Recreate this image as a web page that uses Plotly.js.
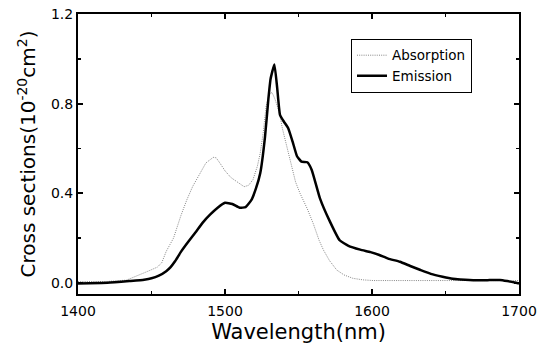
<!DOCTYPE html>
<html>
<head>
<meta charset="utf-8">
<script src="https://cdn.plot.ly/plotly-3.0.1.min.js"></script>
<style>html,body{margin:0;padding:0;background:#fff;}#chart{width:550px;height:344px;}</style>
</head>
<body>
<div id="chart"></div>
<script>
// Emission cross section (10^-20 cm^2)
const emissionWavelength = [1400,1420,1435,1445,1450,1455,1460,1463,1466,1470,1475,1480,1485,1490,1495,1500,1505,1510,1514,1518,1521,1524,1527.2,1529.5,1531,1533.6,1535.5,1537.4,1540,1543,1546,1549,1552,1556,1559,1564.6,1571.4,1578,1584,1592,1599,1605,1611,1619,1626,1633,1640,1648,1655,1660,1671,1680,1687,1692,1698,1700];
const emissionValue = [-0.003,0.0,0.008,0.014,0.02,0.032,0.052,0.07,0.096,0.138,0.183,0.226,0.27,0.305,0.335,0.357,0.352,0.335,0.338,0.37,0.42,0.49,0.65,0.82,0.91,0.975,0.87,0.75,0.72,0.69,0.63,0.565,0.541,0.538,0.504,0.377,0.273,0.19,0.165,0.148,0.137,0.124,0.108,0.094,0.075,0.057,0.04,0.027,0.018,0.015,0.011,0.012,0.013,0.008,0.0,-0.003];

// Absorption cross section (10^-20 cm^2)
const absorptionWavelength = [1400,1420,1433,1440,1447,1454,1457,1460,1465,1470,1474,1478,1483,1487,1492,1494,1497,1500,1504,1508,1513,1516,1519,1522,1524,1526,1528,1530,1532,1534,1537,1539,1542,1545,1548,1551,1556,1560,1564,1567,1571,1576,1581,1587,1594,1601,1650,1700];
const absorptionValue = [0.005,0.006,0.012,0.03,0.05,0.07,0.09,0.14,0.2,0.3,0.37,0.43,0.49,0.535,0.56,0.558,0.53,0.5,0.47,0.45,0.429,0.435,0.46,0.52,0.58,0.67,0.79,0.84,0.85,0.82,0.76,0.69,0.61,0.52,0.45,0.4,0.33,0.265,0.19,0.146,0.1,0.057,0.035,0.02,0.013,0.01,0.01,0.01];

const seriesNames = ["Absorption", "Emission"];
const xTickValues = [1400,1500,1600,1700];
const yTickValues = [0.0,0.4,0.8,1.2];

const FONT = "DejaVu Sans, Arial, sans-serif";

const traces = [
  {x: absorptionWavelength, y: absorptionValue, name: seriesNames[0], type: "scatter", mode: "lines",
   line: {color: "#858585", width: 1, dash: "1px,1.2px"}},
  {x: emissionWavelength, y: emissionValue, name: seriesNames[1], type: "scatter", mode: "lines",
   line: {color: "#000000", width: 2.5, shape: "spline", smoothing: 0.4}}
];

const axisCommon = {
  showline: true, linecolor: "#000", linewidth: 2, mirror: "ticks",
  ticks: "inside", ticklen: 5, tickwidth: 2, tickcolor: "#000",
  showgrid: false, zeroline: false,
  tickfont: {family: FONT, size: 14, color: "#000"}
};

const layout = {
  width: 550, height: 344,
  margin: {l: 78, r: 31, t: 14, b: 50},
  paper_bgcolor: "#fff", plot_bgcolor: "#fff",
  showlegend: true,
  legend: {
    x: 0.619, y: 0.911, xanchor: "left", yanchor: "top",
    bordercolor: "#000", borderwidth: 1, bgcolor: "#fff",
    font: {family: FONT, size: 13.5, color: "#000"},
    tracegroupgap: 0
  },
  xaxis: Object.assign({}, axisCommon, {
    range: [1400, 1700], tickmode: "array", tickvals: xTickValues,
    ticktext: xTickValues.map(String), ticklabelstandoff: 3,
    minor: {ticks: "inside", ticklen: 3, tickwidth: 1.5, tickcolor: "#000", dtick: 50, tick0: 1400},
    title: {text: "Wavelength(nm)", font: {family: FONT, size: 21, color: "#000"}, standoff: 8}
  }),
  yaxis: Object.assign({}, axisCommon, {
    range: [-0.05, 1.2], tickmode: "array", tickvals: yTickValues,
    ticktext: yTickValues.map(v => v.toFixed(1)),
    minor: {ticks: "inside", ticklen: 3, tickwidth: 1.5, tickcolor: "#000", dtick: 0.2, tick0: 0},
    title: {text: "Cross sections(10<sup>-20</sup>cm<sup>2</sup>)", font: {family: FONT, size: 20, color: "#000"}, standoff: 10}
  })
};

Plotly.newPlot("chart", traces, layout, {displayModeBar: false, staticPlot: true});
</script>
</body>
</html>
